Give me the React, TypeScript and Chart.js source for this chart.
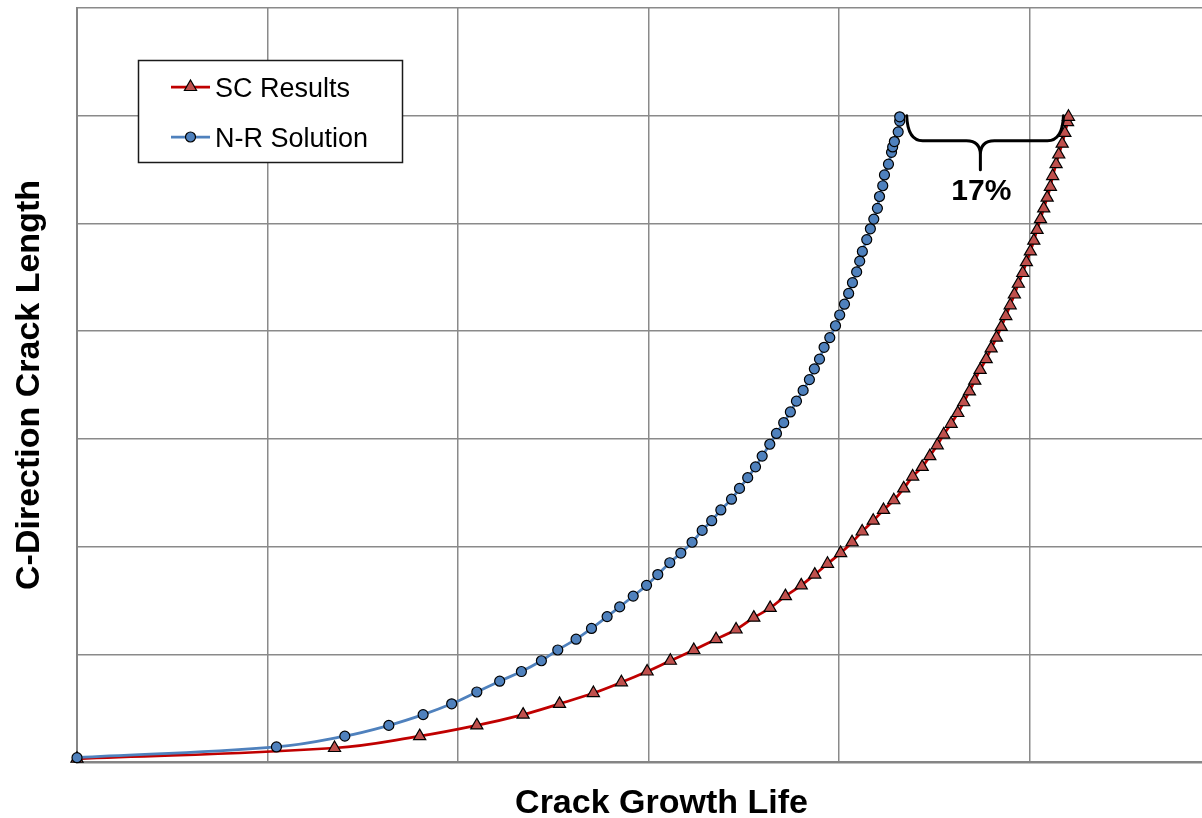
import React, { useEffect, useRef } from "react";
import { Chart, registerables } from "chart.js";

Chart.register(...registerables);

// ---- Text ----
const X_TITLE = "Crack Growth Life";
const Y_TITLE = "C-Direction Crack Length";
const SERIES_LABELS = ["SC Results", "N-R Solution"];
const GAP_LABEL = "17%";

// ---- Axis ranges (no tick labels are shown; grid every 1 unit) ----
const X_MIN = 0;
const X_MAX = 6.137;
const Y_MIN = 0;
const Y_MAX = 7;
const GRID_STEP = 1;

// ---- SC Results (red triangles) ----
const scLife = [
  0, 1.352, 1.799, 2.099, 2.342, 2.533, 2.711, 2.858, 2.993, 3.115, 3.238, 3.355, 3.46, 3.553, 3.639,
  3.719, 3.802, 3.873, 3.94, 4.009, 4.069, 4.122, 4.18, 4.234, 4.288, 4.34, 4.387, 4.437, 4.477, 4.516,
  4.55, 4.589, 4.624, 4.655, 4.685, 4.713, 4.741, 4.773, 4.799, 4.827, 4.852, 4.876, 4.899, 4.921, 4.942,
  4.965, 4.984, 5.005, 5.023, 5.04, 5.058, 5.075, 5.093, 5.11, 5.122, 5.14, 5.154, 5.172, 5.186, 5.2, 5.205,
];
const scLength = [
  0.03, 0.13, 0.24, 0.34, 0.44, 0.54, 0.64, 0.74, 0.84, 0.94, 1.04, 1.14, 1.23, 1.34, 1.43,
  1.54, 1.64, 1.74, 1.84, 1.94, 2.04, 2.14, 2.24, 2.34, 2.43, 2.54, 2.65, 2.74, 2.84, 2.94,
  3.04, 3.14, 3.24, 3.34, 3.44, 3.54, 3.64, 3.74, 3.84, 3.94, 4.04, 4.14, 4.24, 4.34, 4.44,
  4.54, 4.64, 4.74, 4.84, 4.94, 5.04, 5.14, 5.24, 5.34, 5.44, 5.55, 5.64, 5.74, 5.84, 5.94, 5.99,
];

// ---- N-R Solution (blue circles) ----
const nrLife = [
  0, 1.047, 1.406, 1.637, 1.817, 1.967, 2.099, 2.219, 2.333, 2.438, 2.524, 2.62, 2.701, 2.783, 2.849,
  2.92, 2.99, 3.049, 3.112, 3.17, 3.229, 3.282, 3.332, 3.38, 3.436, 3.478, 3.521, 3.562, 3.597, 3.637,
  3.672, 3.71, 3.745, 3.777, 3.812, 3.845, 3.871, 3.898, 3.922, 3.952, 3.982, 4.004, 4.029, 4.051, 4.071,
  4.093, 4.109, 4.123, 4.146, 4.165, 4.183, 4.202, 4.213, 4.23, 4.239, 4.26, 4.276, 4.282, 4.291, 4.311,
  4.319, 4.319,
];
const nrLength = [
  0.04, 0.14, 0.24, 0.34, 0.44, 0.54, 0.65, 0.75, 0.84, 0.94, 1.04, 1.14, 1.24, 1.35, 1.44,
  1.54, 1.64, 1.74, 1.85, 1.94, 2.04, 2.15, 2.24, 2.34, 2.44, 2.54, 2.64, 2.74, 2.84, 2.95,
  3.05, 3.15, 3.25, 3.35, 3.45, 3.55, 3.65, 3.74, 3.85, 3.94, 4.05, 4.15, 4.25, 4.35, 4.45,
  4.55, 4.65, 4.74, 4.85, 4.95, 5.04, 5.14, 5.25, 5.35, 5.45, 5.55, 5.66, 5.71, 5.76, 5.85,
  5.95, 5.99,
];
const GAP_LEVEL = 6; // level at which the life gap is measured

const FONT = '"Liberation Sans", Arial, Helvetica, sans-serif';
const RED_LINE = "#C00000";
const RED_FILL = "#C0504D";
const BLUE_LINE = "#4F81BD";
const BLUE_FILL = "#4F81BD";
const GRID = "#8a8a8a";

const legendPlugin = {
  id: "boxLegend",
  afterDatasetsDraw(chart: any) {
    const ctx = chart.ctx;
    const left = 138.5, top = 60.5, w = 264, h = 102;
    ctx.save();
    ctx.fillStyle = "#ffffff";
    ctx.fillRect(left, top, w, h);
    ctx.strokeStyle = "#1a1a1a";
    ctx.lineWidth = 1.5;
    ctx.strokeRect(left, top, w, h);
    const ds = chart.data.datasets;
    const legendOrder = [0, 1];
    const rowsY = [87, 137];
    legendOrder.forEach((di, row) => {
      const d = ds[di];
      const cy = rowsY[row];
      ctx.strokeStyle = d.borderColor;
      ctx.lineWidth = d.borderWidth;
      ctx.beginPath();
      ctx.moveTo(171, cy);
      ctx.lineTo(210, cy);
      ctx.stroke();
      ctx.fillStyle = d.pointBackgroundColor;
      ctx.strokeStyle = d.pointBorderColor;
      ctx.lineWidth = d.pointBorderWidth;
      if (d.pointStyle === "triangle") {
        const r = d.pointRadius;
        ctx.beginPath();
        ctx.moveTo(190.5, cy - r);
        ctx.lineTo(190.5 + r * 0.866, cy + r * 0.5);
        ctx.lineTo(190.5 - r * 0.866, cy + r * 0.5);
        ctx.closePath();
        ctx.fill();
        ctx.stroke();
      } else {
        ctx.beginPath();
        ctx.arc(190.5, cy, d.pointRadius, 0, Math.PI * 2);
        ctx.fill();
        ctx.stroke();
      }
      ctx.fillStyle = "#000";
      ctx.font = `27px ${FONT}`;
      ctx.textAlign = "left";
      ctx.textBaseline = "alphabetic";
      ctx.fillText(d.label, 215, cy + 9.7);
    });
    ctx.restore();
  },
};

const bracePlugin = {
  id: "gapBrace",
  afterDatasetsDraw(chart: any) {
    const ctx = chart.ctx;
    const xs = chart.scales.x;
    const ys = chart.scales.y;
    const x0 = xs.getPixelForValue(nrLife[nrLife.length - 1]) + 7;
    const x1 = xs.getPixelForValue(scLife[scLife.length - 1]) - 5;
    const y0 = ys.getPixelForValue(GAP_LEVEL);
    const yH = y0 + 25;
    const yC = y0 + 54;
    const xm = x0 + (x1 - x0) * 0.47;
    ctx.save();
    ctx.strokeStyle = "#000";
    ctx.lineWidth = 3;
    ctx.lineCap = "round";
    ctx.beginPath();
    ctx.moveTo(x0, y0);
    ctx.quadraticCurveTo(x0 + 1, yH, x0 + 16, yH);
    ctx.lineTo(xm - 14, yH);
    ctx.quadraticCurveTo(xm, yH, xm, yH + 14);
    ctx.lineTo(xm, yC);
    ctx.moveTo(xm, yH + 14);
    ctx.quadraticCurveTo(xm, yH, xm + 14, yH);
    ctx.lineTo(x1 - 16, yH);
    ctx.quadraticCurveTo(x1 - 1, yH, x1, y0);
    ctx.stroke();
    ctx.fillStyle = "#000";
    ctx.font = `bold 30px ${FONT}`;
    ctx.textAlign = "center";
    ctx.textBaseline = "alphabetic";
    ctx.fillText(GAP_LABEL, xm + 1, y0 + 84);
    ctx.restore();
  },
};

const integerTicks = (scale: any) => {
  scale.ticks = scale.ticks.filter((t: any) => Math.abs(t.value - Math.round(t.value)) < 1e-9);
};

const CANVAS_W = 1246; // plot runs past the right edge of the window, as in the source
const CANVAS_H = 818;

export default function App() {
  const canvasRef = useRef<HTMLCanvasElement | null>(null);

  useEffect(() => {
    if (!canvasRef.current) return;
    const chart = new Chart(canvasRef.current, {
      type: "line",
      data: {
        datasets: [
          {
            label: SERIES_LABELS[0],
            data: scLife.map((x, i) => ({ x, y: scLength[i] })),
            borderColor: RED_LINE,
            borderWidth: 2.75,
            pointStyle: "triangle",
            pointRadius: 7,
            pointBackgroundColor: RED_FILL,
            pointBorderColor: "#000000",
            pointBorderWidth: 1.2,
            tension: 0.4,
            clip: false,
            order: 1,
          } as any,
          {
            label: SERIES_LABELS[1],
            data: nrLife.map((x, i) => ({ x, y: nrLength[i] })),
            borderColor: BLUE_LINE,
            borderWidth: 2.75,
            pointStyle: "circle",
            pointRadius: 5,
            pointBackgroundColor: BLUE_FILL,
            pointBorderColor: "#000000",
            pointBorderWidth: 1.2,
            tension: 0.4,
            clip: false,
            order: 0,
          } as any,
        ],
      },
      options: {
        responsive: false,
        animation: false,
        events: [],
        layout: { autoPadding: false, padding: { left: 0, right: 0, top: 8, bottom: 0 } },
        plugins: {
          legend: { display: false },
          tooltip: { enabled: false },
        },
        scales: {
          x: {
            type: "linear",
            min: X_MIN,
            max: X_MAX,
            ticks: { display: false, stepSize: GRID_STEP },
            afterBuildTicks: integerTicks,
            afterFit: (s: any) => {
              s.height = 56;
            },
            grid: { color: GRID, lineWidth: 1.5, drawTicks: false, tickLength: 0 },
            border: { display: true, color: "#858585", width: 2.5 },
            title: {
              display: true,
              text: X_TITLE,
              color: "#000",
              font: { family: FONT, size: 34, weight: "bold", lineHeight: 0.86 },
              padding: { top: 0, bottom: 0 },
            },
          },
          y: {
            type: "linear",
            min: Y_MIN,
            max: Y_MAX,
            ticks: { display: false, stepSize: GRID_STEP },
            afterBuildTicks: integerTicks,
            afterFit: (s: any) => {
              s.width = 77;
            },
            grid: { color: GRID, lineWidth: 1.5, drawTicks: false, tickLength: 0 },
            border: { display: true, color: "#858585", width: 2 },
            title: {
              display: true,
              text: Y_TITLE,
              color: "#000",
              font: { family: FONT, size: 34, weight: "bold", lineHeight: 0.86 },
              padding: { top: 15, bottom: 0 },
            },
          },
        },
      } as any,
      plugins: [bracePlugin, legendPlugin],
    });
    return () => chart.destroy();
  }, []);

  return (
    <div
      style={{
        position: "absolute",
        left: 0,
        top: 0,
        width: 1202,
        height: 818,
        overflow: "hidden",
        background: "#fff",
      }}
    >
      <canvas
        ref={canvasRef}
        width={CANVAS_W}
        height={CANVAS_H}
        style={{ display: "block", width: CANVAS_W, height: CANVAS_H }}
      />
    </div>
  );
}
